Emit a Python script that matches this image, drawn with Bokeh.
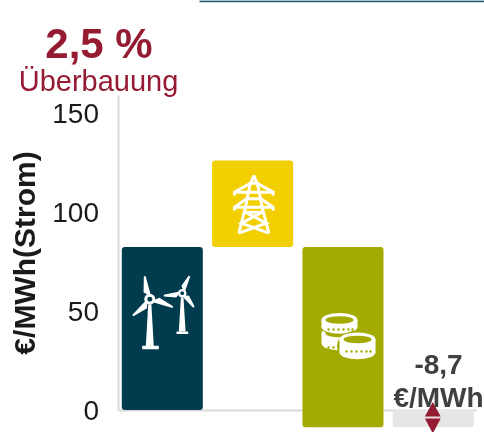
from bokeh.plotting import figure
from bokeh.models import Range1d, Label, FixedTicker
from bokeh.embed import file_html
from bokeh.resources import INLINE

# ---- data ----
headline = "2,5 %"
subtitle = "Überbauung"
y_label = "€/MWh(Strom)"
y_ticks = [0, 50, 100, 150]
bar_names = ["Wind", "Netz", "Kosten", "Differenz"]
bar_bottom = [0, 82.3, -8.7, -8.7]
bar_top = [82.3, 126, 82.3, 0]
bar_colors = ["#003B4E", "#F2CF00", "#A3AB00", "#E6E6E6"]
delta_text = ["-8,7", "€/MWh"]

# ---- picture geometry: the frame fills the whole picture ----
W, H = 484, 432
LEFT = 117.5
PITCH = 90.33
CENTER0 = 161.8
ZERO_PY = 409.5
PY_PER_UNIT = 1.98


def X(px):
    return (px - CENTER0) / PITCH


def Y(py):
    return (ZERO_PY - py) / PY_PER_UNIT


p = figure(
    width=W, height=H, output_backend="svg", toolbar_location=None,
    x_range=Range1d(X(0), X(W)), y_range=Range1d(Y(H), Y(0)),
    min_border_left=0, min_border_right=0, min_border_top=0, min_border_bottom=0,
    outline_line_color=None, background_fill_color="white",
)
p.styles = {"position": "fixed", "left": "0px", "top": "0px"}
p.grid.visible = False

# axes
yax = p.yaxis[0]
yax.fixed_location = X(LEFT)
yax.ticker = FixedTicker(ticks=y_ticks)
yax.bounds = (0, Y(95))
yax.axis_line_color = "#D9D9D9"
yax.axis_line_width = 2
yax.major_tick_line_color = None
yax.minor_tick_line_color = None
yax.major_label_text_font = "Liberation Sans"
yax.major_label_text_font_size = "28px"
yax.major_label_text_color = "#1A1A1A"
yax.major_label_standoff = 13
yax.axis_label = y_label
yax.axis_label_text_font = "Liberation Sans"
yax.axis_label_text_font_style = "bold"
yax.axis_label_text_font_size = "30px"
yax.axis_label_text_color = "#1A1A1A"
yax.axis_label_standoff = 9
yax.level = "underlay"

xax = p.xaxis[0]
xax.fixed_location = 0
xax.bounds = (X(LEFT), X(476))
xax.ticker = FixedTicker(ticks=[])
xax.axis_line_color = "#D9D9D9"
xax.axis_line_width = 2
xax.major_tick_line_color = None
xax.minor_tick_line_color = None
xax.major_label_text_font_size = "0px"
xax.level = "underlay"

# bars
idx = list(range(len(bar_names)))
p.quad(left=[i - 0.4485 for i in idx], right=[i + 0.4485 for i in idx],
       bottom=bar_bottom, top=bar_top, fill_color=bar_colors, line_color=None,
       border_radius=3)

# top rule of the source page
p.segment(X(199), Y(0.8), X(W), Y(0.8), line_color="#1F5F6B", line_width=2)

WHITE = "#FFFFFF"


# ---- icons (drawn in picture pixels, converted by the scales) ----
def poly(points, color=WHITE):
    p.patch([X(a) for a, _ in points], [Y(b) for _, b in points],
            fill_color=color, line_color=None)


def blade(hub, tip, side, fat):
    hx, hy = hub
    tx, ty = tip
    dx, dy = tx - hx, ty - hy
    n = (dx * dx + dy * dy) ** 0.5
    nx, ny = -dy / n * side, dx / n * side
    poly([(hx + dx * 0.15, hy + dy * 0.15),
          (hx + dx * 0.35 + nx * fat, hy + dy * 0.35 + ny * fat),
          (tx + nx * 1.0, ty + ny * 1.0),
          (tx - nx * 0.8, ty - ny * 0.8),
          (hx + dx * 0.2 - nx * 1.8, hy + dy * 0.2 - ny * 1.8)])


def turbine(hub, tips, tower, foot, hub_size, fat):
    for t, s in tips:
        blade(hub, t, s, fat)
    tt, tb, tw_top, tw_bot = tower
    hx = hub[0]
    poly([(hx - tw_top, tt), (hx + tw_top, tt), (hx + tw_bot, tb), (hx - tw_bot, tb)])
    poly([(foot[0], foot[2]), (foot[1], foot[2]), (foot[1], foot[3]), (foot[0], foot[3])])
    p.scatter([X(hub[0])], [Y(hub[1])], size=hub_size, color=WHITE, line_color=None)
    p.scatter([X(hub[0])], [Y(hub[1])], size=hub_size * 0.45, color=bar_colors[0], line_color=None)


turbine((149.3, 298.7), [((144.3, 275.7), -1), ((172.3, 306.7), -1), ((132.3, 315), -1)],
        (304, 346, 1.6, 4.0), (141.7, 158.3, 345.3, 348.8), 11, 4.6)
turbine((181.7, 292.7), [((189, 275.7), -1), ((163.3, 295), -1), ((193.3, 306.7), -1)],
        (297, 331, 1.3, 3.4), (176, 187.7, 331, 333.5), 8.5, 3.6)


# pylon
def Zx(v):
    return X(200 + v / 3)


def Zy(v):
    return Y(150 + v / 3)


pylon = [
    [(160, 75), (148, 105), (135, 170), (115, 248)],
    [(160, 75), (172, 105), (185, 170), (205, 248)],
    [(102, 135), (102, 125), (150, 98), (170, 98), (218, 125), (218, 135)],
    [(102, 125), (218, 125)],
    [(102, 180), (102, 170), (138, 145), (182, 145), (218, 170), (218, 180)],
    [(102, 170), (218, 170)],
    [(135, 185), (197, 218), (115, 248)],
    [(185, 185), (123, 218), (205, 248)],
    [(130, 185), (190, 185)],
]
p.multi_line([[Zx(a) for a, _ in s] for s in pylon], [[Zy(b) for _, b in s] for s in pylon],
             line_color=WHITE, line_width=3, line_join="miter")


# coins
def coin(cx, cy, drop, dot_y):
    olive = bar_colors[2]
    p.ellipse([X(cx)], [Y(cy + drop / 2)], width=[41 / PITCH], height=[(drop + 18) / PY_PER_UNIT],
              fill_color=olive, line_color=None)
    p.quad(left=[X(cx - 18)], right=[X(cx + 18)], top=[Y(cy)], bottom=[Y(cy + drop)],
           fill_color=WHITE, line_color=None)
    p.ellipse([X(cx)], [Y(cy + drop)], width=[36 / PITCH], height=[13.5 / PY_PER_UNIT],
              fill_color=WHITE, line_color=None)
    p.ellipse([X(cx)], [Y(cy)], width=[36 / PITCH], height=[14 / PY_PER_UNIT],
              fill_color=WHITE, line_color=None)
    p.ellipse([X(cx)], [Y(cy)], width=[28 / PITCH], height=[7.5 / PY_PER_UNIT],
              fill_color=olive, line_color=None)
    dots = [cx + d for d in (-11, -6, -1, 4, 9, 13)]
    p.scatter([X(d) for d in dots], [Y(dot_y) for _ in dots], size=2.4,
              color=olive, line_color=None)


coin(339, 333, 10, 347)
coin(339, 319.5, 7, 329)
coin(357, 339, 13, 351)

# red double arrow
RED = "#951B33"
poly([(432.3, 401.5), (440.2, 416), (424.4, 416)], RED)
poly([(424.4, 418), (440.2, 418), (432.3, 433)], RED)
p.segment(X(426), Y(417), X(439), Y(417), line_color="#F1D9DD", line_width=1)


# texts
def label(txt, px, py, size, color, style="normal"):
    p.add_layout(Label(x=X(px), y=Y(py), text=txt, text_font="Liberation Sans",
                       text_font_size=f"{size}px", text_font_style=style,
                       text_color=color, text_align="center", text_baseline="alphabetic"))


label(headline, 98.5, 43, 42, RED, "bold")
label(subtitle, 98, 80, 29, RED)
label(delta_text[0], 438, 364, 28, "#404040", "bold")
label(delta_text[1], 438, 397, 28, "#404040", "bold")

open("out.html", "w").write(file_html(p, INLINE))
